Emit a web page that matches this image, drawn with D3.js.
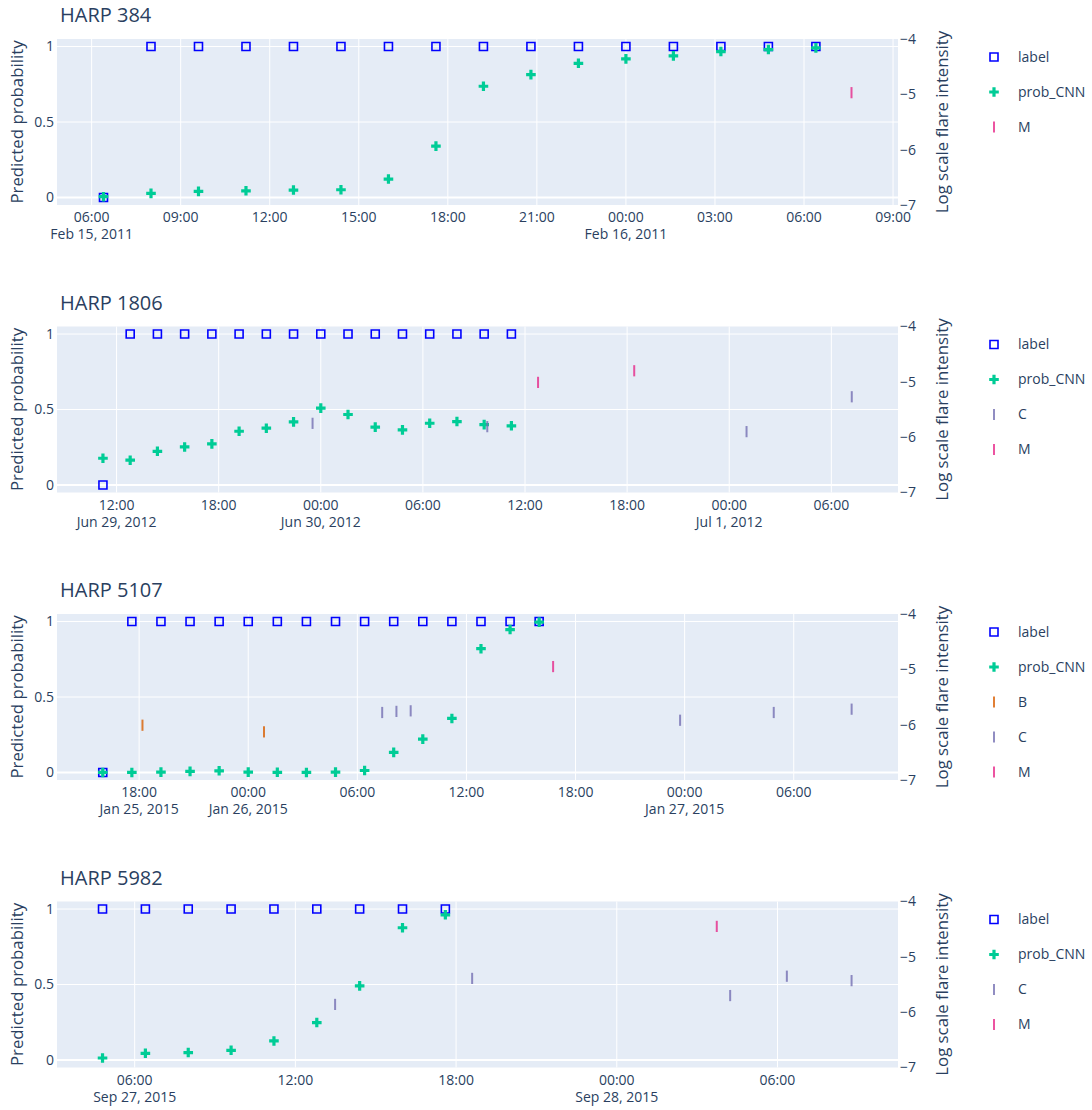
<!DOCTYPE html>
<html>
<head>
<meta charset="utf-8">
<script src="https://cdn.jsdelivr.net/npm/d3@7"></script>
<style>
  body { margin: 0; background: #fff; }
  text { font-family: "Open Sans", sans-serif; fill: #2a3f5f; }
</style>
</head>
<body>
<div id="chart"></div>
<script>
// ================= data =================
var harpTitles = ["HARP 384", "HARP 1806", "HARP 5107", "HARP 5982"];
var xRanges = [
  ["2011-02-15 04:50", "2011-02-16 09:10"],
  ["2012-06-29 08:30", "2012-07-01 09:55"],
  ["2015-01-25 13:29", "2015-01-27 11:44"],
  ["2015-09-27 03:06", "2015-09-28 10:30"]
];
var tickHours = [3, 6, 6, 6];

var harp384Times = ["2011-02-15 06:24", "2011-02-15 08:00", "2011-02-15 09:36", "2011-02-15 11:12",
  "2011-02-15 12:48", "2011-02-15 14:24", "2011-02-15 16:00", "2011-02-15 17:36", "2011-02-15 19:12",
  "2011-02-15 20:48", "2011-02-15 22:24", "2011-02-16 00:00", "2011-02-16 01:36", "2011-02-16 03:12",
  "2011-02-16 04:48", "2011-02-16 06:24"];
var harp384Label = [0, 1, 1, 1, 1, 1, 1, 1, 1, 1, 1, 1, 1, 1, 1, 1];
var harp384Prob = [0.005, 0.027, 0.04, 0.044, 0.049, 0.051, 0.122, 0.34, 0.737, 0.814, 0.889, 0.918,
  0.938, 0.967, 0.98, 0.991];
var harp384Flares = {
  M: [["2011-02-16 07:36", -4.97]]
};

var harp1806Times = ["2012-06-29 11:12", "2012-06-29 12:48", "2012-06-29 14:24", "2012-06-29 16:00",
  "2012-06-29 17:36", "2012-06-29 19:12", "2012-06-29 20:48", "2012-06-29 22:24", "2012-06-30 00:00",
  "2012-06-30 01:36", "2012-06-30 03:12", "2012-06-30 04:48", "2012-06-30 06:24", "2012-06-30 08:00",
  "2012-06-30 09:36", "2012-06-30 11:12"];
var harp1806Label = [0, 1, 1, 1, 1, 1, 1, 1, 1, 1, 1, 1, 1, 1, 1, 1];
var harp1806Prob = [0.177, 0.164, 0.223, 0.252, 0.272, 0.356, 0.376, 0.418, 0.509, 0.467, 0.383, 0.365,
  0.409, 0.42, 0.40, 0.392];
var harp1806Flares = {
  C: [["2012-06-29 23:31", -5.75], ["2012-06-30 09:47", -5.81], ["2012-07-01 01:01", -5.90],
      ["2012-07-01 07:12", -5.27]],
  M: [["2012-06-30 12:46", -5.01], ["2012-06-30 18:25", -4.80]]
};

var harp5107Times = ["2015-01-25 16:00", "2015-01-25 17:36", "2015-01-25 19:12", "2015-01-25 20:48",
  "2015-01-25 22:24", "2015-01-26 00:00", "2015-01-26 01:36", "2015-01-26 03:12", "2015-01-26 04:48",
  "2015-01-26 06:24", "2015-01-26 08:00", "2015-01-26 09:36", "2015-01-26 11:12", "2015-01-26 12:48",
  "2015-01-26 14:24", "2015-01-26 16:00"];
var harp5107Label = [0, 1, 1, 1, 1, 1, 1, 1, 1, 1, 1, 1, 1, 1, 1, 1];
var harp5107Prob = [0.0, 0.0, 0.002, 0.007, 0.011, 0.002, 0.001, 0.0, 0.002, 0.013, 0.133, 0.221,
  0.358, 0.82, 0.947, 0.996];
var harp5107Flares = {
  B: [["2015-01-25 18:11", -6.01], ["2015-01-26 00:52", -6.13]],
  C: [["2015-01-26 07:22", -5.78], ["2015-01-26 08:09", -5.76], ["2015-01-26 08:56", -5.75],
      ["2015-01-26 23:45", -5.92], ["2015-01-27 04:54", -5.78], ["2015-01-27 09:11", -5.72]],
  M: [["2015-01-26 16:46", -4.95]]
};

var harp5982Times = ["2015-09-27 04:48", "2015-09-27 06:24", "2015-09-27 08:00", "2015-09-27 09:36",
  "2015-09-27 11:12", "2015-09-27 12:48", "2015-09-27 14:24", "2015-09-27 16:00", "2015-09-27 17:36"];
var harp5982Label = [1, 1, 1, 1, 1, 1, 1, 1, 1];
var harp5982Prob = [0.013, 0.044, 0.049, 0.064, 0.126, 0.248, 0.491, 0.876, 0.962];
var harp5982Flares = {
  C: [["2015-09-27 13:29", -5.86], ["2015-09-27 18:36", -5.39], ["2015-09-28 04:14", -5.70],
      ["2015-09-28 06:21", -5.35], ["2015-09-28 08:46", -5.43]],
  M: [["2015-09-28 03:44", -4.45]]
};

var panels = [
  { times: harp384Times, label: harp384Label, prob: harp384Prob, flares: harp384Flares },
  { times: harp1806Times, label: harp1806Label, prob: harp1806Prob, flares: harp1806Flares },
  { times: harp5107Times, label: harp5107Label, prob: harp5107Prob, flares: harp5107Flares },
  { times: harp5982Times, label: harp5982Label, prob: harp5982Prob, flares: harp5982Flares }
];

var flareColors = { B: "#d95f02", C: "#7570b3", M: "#e7298a" };

// ================= layout =================
var svgWidth = 1092;
var svgHeight = 1110;
var plotLeft = 57;
var plotRight = 898;
var plotHeight = 166;
var firstTop = 39;
var panelPitch = 287.5;

var parseTime = d3.utcParse("%Y-%m-%d %H:%M");
var fmtTime = d3.utcFormat("%H:%M");
var fmtDate = d3.utcFormat("%b %-d, %Y");
var minus = function(v) { return String(v).replace("-", "\u2212"); };

// plotly-like marker paths
function squarePath(r) { return "M" + r + "," + r + "H" + (-r) + "V" + (-r) + "H" + r + "Z"; }
function crossPath(r) {
  var a = r * 0.4, b = r * 1.2;
  return "M" + b + "," + a + "H" + a + "V" + b + "H" + (-a) + "V" + a + "H" + (-b) + "V" + (-a) +
    "H" + (-a) + "V" + (-b) + "H" + a + "V" + (-a) + "H" + b + "Z";
}
function linePath(r) { var c = r * 1.4; return "M0," + c + "V" + (-c); }

var svg = d3.select("#chart")
  .append("svg")
  .attr("width", svgWidth)
  .attr("height", svgHeight);

panels.forEach(function(p, i) {
  var top = firstTop + i * panelPitch;
  var bottom = top + plotHeight;

  var x = d3.scaleUtc()
    .domain(xRanges[i].map(parseTime))
    .range([plotLeft, plotRight]);
  var y = d3.scaleLinear().domain([-0.05, 1.05]).range([bottom, top]);
  var y2 = d3.scaleLinear().domain([-7, -4]).range([bottom, top]);

  var g = svg.append("g");

  // title
  g.append("text")
    .attr("x", 60)
    .attr("y", top - 17)
    .style("font-size", "20px")
    .text(harpTitles[i]);

  // background
  g.append("rect")
    .attr("x", plotLeft)
    .attr("y", top)
    .attr("width", plotRight - plotLeft)
    .attr("height", plotHeight)
    .attr("fill", "#E5ECF6");

  var xTicks = x.ticks(d3.utcHour.every(tickHours[i]));

  // vertical grid
  g.selectAll(".vgrid")
    .data(xTicks)
    .enter()
    .append("line")
    .attr("x1", d => x(d)).attr("x2", d => x(d))
    .attr("y1", top).attr("y2", bottom)
    .attr("stroke", "#fff")
    .attr("stroke-width", 1);

  // horizontal grid (left axis)
  var yTicks = [0, 0.5, 1];
  g.selectAll(".hgrid")
    .data(yTicks)
    .enter()
    .append("line")
    .attr("x1", plotLeft).attr("x2", plotRight)
    .attr("y1", d => y(d)).attr("y2", d => y(d))
    .attr("stroke", "#fff")
    .attr("stroke-width", d => d === 0 ? 2 : 1);

  // x tick labels, date on first tick and at day change
  var xLab = g.selectAll(".xlab")
    .data(xTicks)
    .enter()
    .append("text")
    .attr("text-anchor", "middle")
    .style("font-size", "14px");
  xLab.append("tspan")
    .attr("x", d => x(d))
    .attr("y", bottom + 17)
    .text(d => fmtTime(d));
  xLab.filter((d, k) => k === 0 || (d.getUTCHours() === 0 && d.getUTCMinutes() === 0))
    .append("tspan")
    .attr("x", d => x(d))
    .attr("y", bottom + 34)
    .text(d => fmtDate(d));

  // left y tick labels
  g.selectAll(".ylab")
    .data(yTicks)
    .enter()
    .append("text")
    .attr("x", 54)
    .attr("y", d => y(d))
    .attr("dy", "0.35em")
    .attr("text-anchor", "end")
    .style("font-size", "14px")
    .text(d => d);

  // right y tick labels
  g.selectAll(".y2lab")
    .data([-4, -5, -6, -7])
    .enter()
    .append("text")
    .attr("x", 900)
    .attr("y", d => y2(d))
    .attr("dy", "0.35em")
    .attr("text-anchor", "start")
    .style("font-size", "14px")
    .text(d => minus(d));

  // axis titles
  g.append("text")
    .attr("transform", `translate(23, ${top + plotHeight / 2}) rotate(-90)`)
    .attr("text-anchor", "middle")
    .style("font-size", "16.8px")
    .text("Predicted probability");
  g.append("text")
    .attr("transform", `translate(948, ${top + plotHeight / 2}) rotate(-90)`)
    .attr("text-anchor", "middle")
    .style("font-size", "16.8px")
    .text("Log scale flare intensity");

  // label markers
  var clip = "clip" + i;
  svg.append("clipPath").attr("id", clip)
    .append("rect")
    .attr("x", plotLeft).attr("y", top - 6)
    .attr("width", plotRight - plotLeft).attr("height", plotHeight + 12);
  var marks = g.append("g").attr("clip-path", `url(#${clip})`);

  marks.selectAll(".lbl")
    .data(p.times)
    .enter()
    .append("path")
    .attr("d", squarePath(4))
    .attr("transform", (d, k) => `translate(${x(parseTime(d))}, ${y(p.label[k])})`)
    .attr("fill", "none")
    .attr("stroke", "#0000ff")
    .attr("stroke-width", 1.6);

  marks.selectAll(".prob")
    .data(p.times)
    .enter()
    .append("path")
    .attr("d", crossPath(4))
    .attr("transform", (d, k) => `translate(${x(parseTime(d))}, ${y(p.prob[k])})`)
    .attr("fill", "#00cc96");

  var classes = Object.keys(p.flares).sort();
  classes.forEach(function(c) {
    marks.selectAll(".fl" + c)
      .data(p.flares[c])
      .enter()
      .append("path")
      .attr("d", linePath(4))
      .attr("transform", d => `translate(${x(parseTime(d[0]))}, ${y2(d[1])})`)
      .attr("stroke", flareColors[c])
      .attr("stroke-width", 2)
      .attr("opacity", 0.8);
  });

  // legend
  var items = ["label", "prob_CNN"].concat(classes);
  var leg = g.selectAll(".leg")
    .data(items)
    .enter()
    .append("g")
    .attr("transform", (d, k) => `translate(994, ${top + 18 + k * 35})`);
  leg.append("path")
    .attr("d", d => d === "label" ? squarePath(4) : d === "prob_CNN" ? crossPath(4) : linePath(4))
    .attr("fill", d => d === "prob_CNN" ? "#00cc96" : "none")
    .attr("stroke", d => d === "label" ? "#0000ff" : d === "prob_CNN" ? "none" : flareColors[d])
    .attr("stroke-width", d => d === "label" ? 1.6 : 2)
    .attr("opacity", d => flareColors[d] ? 0.8 : 1);
  leg.append("text")
    .attr("x", 24)
    .attr("dy", "0.35em")
    .style("font-size", "14px")
    .text(d => d);
});
</script>
</body>
</html>
